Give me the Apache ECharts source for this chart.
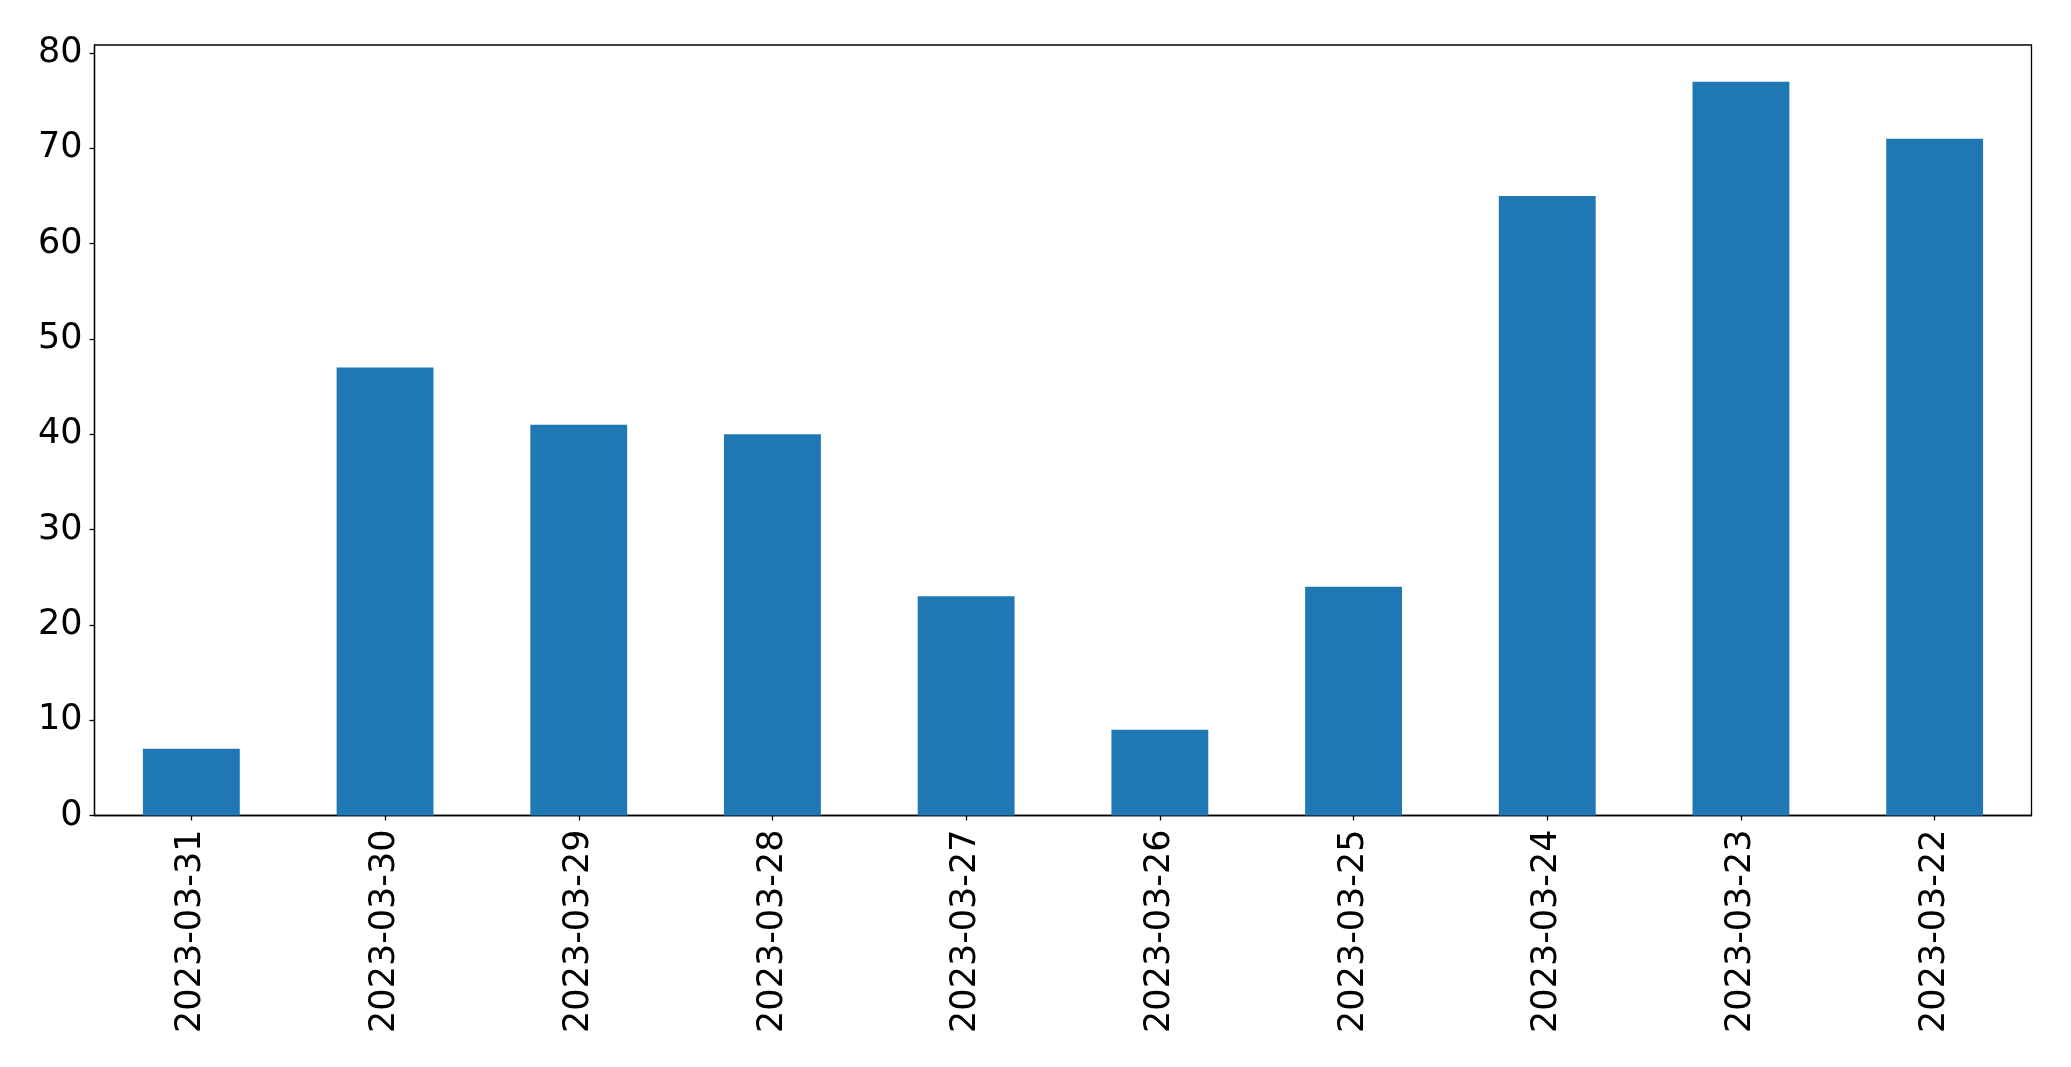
<!DOCTYPE html>
<html>
<head>
<meta charset="utf-8">
<title>bar chart</title>
<script src="https://cdn.jsdelivr.net/npm/echarts@6/dist/echarts.min.js"></script>
<style>
  html, body { margin: 0; padding: 0; background: #fff; }
  #chart { width: 2071px; height: 1067px; }
</style>
</head>
<body>
<div id="chart"></div>
<script>
// dates as they appear on the x axis (newest first)
var dates = ["2023-03-31", "2023-03-30", "2023-03-29", "2023-03-28", "2023-03-27",
             "2023-03-26", "2023-03-25", "2023-03-24", "2023-03-23", "2023-03-22"];
var counts = [7, 47, 41, 40, 23, 9, 24, 65, 77, 71];
var yTicks = [0, 10, 20, 30, 40, 50, 60, 70, 80];

var myChart = echarts.init(document.getElementById("chart"), null, { renderer: "canvas" });
var font = "DejaVu Sans";

var option = {
  animation: false,
  backgroundColor: "#ffffff",
  textStyle: { fontFamily: font },
  grid: {
    left: 94.5,
    right: 39.5,
    top: 45,
    bottom: 251.5,
    containLabel: false,
    outerBoundsMode: "none",
    show: true,
    borderColor: "#000",
    borderWidth: 1.3,
    backgroundColor: "transparent",
  },
  xAxis: {
    type: "category",
    data: dates,
    boundaryGap: true,
    axisLine: { show: true, lineStyle: { color: "#000", width: 1.3 } },
    axisTick: { show: true, alignWithLabel: true, length: 5, lineStyle: { color: "#000", width: 1.3 } },
    axisLabel: {
      interval: 0,
      rotate: 90,
      margin: 14,
      color: "#000",
      fontSize: 35,
      fontFamily: font,
    },
    splitLine: { show: false },
  },
  yAxis: {
    type: "value",
    min: 0,
    max: 80.85, // matplotlib style 5% headroom above 77
    axisLine: { show: true, lineStyle: { color: "#000", width: 1.3 } },
    axisTick: { show: true, length: 5, customValues: yTicks, lineStyle: { color: "#000", width: 1.3 } },
    axisLabel: {
      margin: 12,
      color: "#000",
      fontSize: 35,
      fontFamily: font,
      customValues: yTicks,
    },
    splitLine: { show: false },
  },
  series: [
    {
      type: "bar",
      data: counts,
      barWidth: "50%",
      itemStyle: { color: "#1f77b4" },
    },
  ],
};

myChart.setOption(option);
</script>
</body>
</html>
